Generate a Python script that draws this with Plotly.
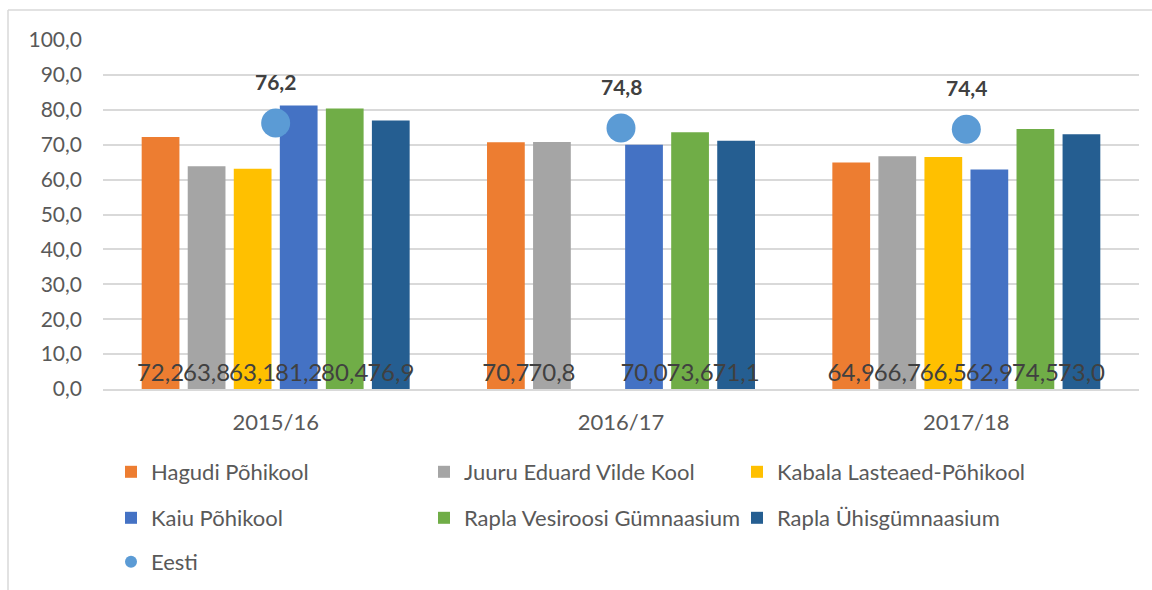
import plotly.graph_objects as go

categories = ["2015/16", "2016/17", "2017/18"]
schools = [
    "Hagudi Põhikool",
    "Juuru Eduard Vilde Kool",
    "Kabala Lasteaed-Põhikool",
    "Kaiu Põhikool",
    "Rapla Vesiroosi Gümnaasium",
    "Rapla Ühisgümnaasium",
]
hagudi = [72.2, 70.7, 64.9]
juuru = [63.8, 70.8, 66.7]
kabala = [63.1, None, 66.5]
kaiu = [81.2, 70.0, 62.9]
vesiroosi = [80.4, 73.6, 74.5]
yhis = [76.9, 71.1, 73.0]
eesti = [76.2, 74.8, 74.4]

series = [hagudi, juuru, kabala, kaiu, vesiroosi, yhis]
colors = ["#ED7D31", "#A5A5A5", "#FFC000", "#4472C4", "#70AD47", "#255E91"]
legend_ids = ["legend", "legend", "legend", "legend2", "legend2", "legend2"]

FONT = "Lato"
W, H = 1152, 590
L, R, T, B = 103, 13, 40, 201
PW, PH = W - L - R, H - T - B


def px_x(p):
    return (p - L) / PW


def px_y(p):
    return (H - B - p) / PH


fig = go.Figure()
for name, vals, col, lg in zip(schools, series, colors, legend_ids):
    fig.add_trace(go.Bar(
        name=name, x=categories, y=vals,
        marker=dict(color=col, line=dict(width=0)),
        text=["" if v is None else f"{v:.1f}".replace(".", ",") for v in vals],
        textposition="inside", insidetextanchor="start",
        textangle=0, constraintext="none", cliponaxis=False,
        insidetextfont=dict(family=FONT, size=24, color="#404040"),
        legend=lg,
    ))

fig.add_trace(go.Scatter(
    name="Eesti", x=categories, y=eesti, mode="markers",
    marker=dict(color="#5B9BD5", size=29),
    legend="legend3", cliponaxis=False,
))

annotations = [
    dict(x=c, y=v, xref="x", yref="y", text=f"<b>{v:.1f}</b>".replace(".", ","),
         showarrow=False, yanchor="bottom", yshift=27,
         font=dict(family=FONT, size=21, color="#404040"))
    for c, v in zip(categories, eesti)
]

frame = "#D9D9D9"
shapes = [
    dict(type="line", xref="paper", yref="paper",
         x0=px_x(8), x1=px_x(1160), y0=px_y(10), y1=px_y(10),
         line=dict(color=frame, width=1.5)),
    dict(type="line", xref="paper", yref="paper",
         x0=px_x(8), x1=px_x(8), y0=px_y(10), y1=px_y(600),
         line=dict(color=frame, width=1.5)),
]

leg_common = dict(orientation="h", xanchor="left", yanchor="middle",
                  entrywidth=268, entrywidthmode="pixels",
                  font=dict(family=FONT, size=22, color="#595959"),
                  bgcolor="rgba(0,0,0,0)", itemclick=False)

fig.update_layout(
    width=W, height=H,
    margin=dict(l=L, r=R, t=T, b=B, pad=0, autoexpand=False),
    paper_bgcolor="white", plot_bgcolor="white",
    separators=",.",
    barmode="group", bargap=0.2, bargroupgap=0.18,
    font=dict(family=FONT, color="#595959"),
    showlegend=True,
    legend=dict(x=px_x(111), y=px_y(472), **leg_common),
    legend2=dict(x=px_x(111), y=px_y(518), **leg_common),
    legend3=dict(x=px_x(111), y=px_y(562), itemsizing="constant", **leg_common),
    annotations=annotations,
    shapes=shapes,
    xaxis=dict(showgrid=False, showline=True, linecolor=frame, linewidth=1.5,
               ticks="", tickfont=dict(family=FONT, size=22, color="#595959"),
               ticklabelstandoff=13),
    yaxis=dict(range=[0, 100], dtick=10, tickformat=".1f",
               showgrid=True, gridcolor=frame, gridwidth=1.5,
               zeroline=False, showline=False, ticks="",
               tickfont=dict(family=FONT, size=21, color="#595959"),
               ticklabelstandoff=20),
)

fig.write_html("out.html", config={"displayModeBar": False},
               post_script="document.body.style.margin='0';")
